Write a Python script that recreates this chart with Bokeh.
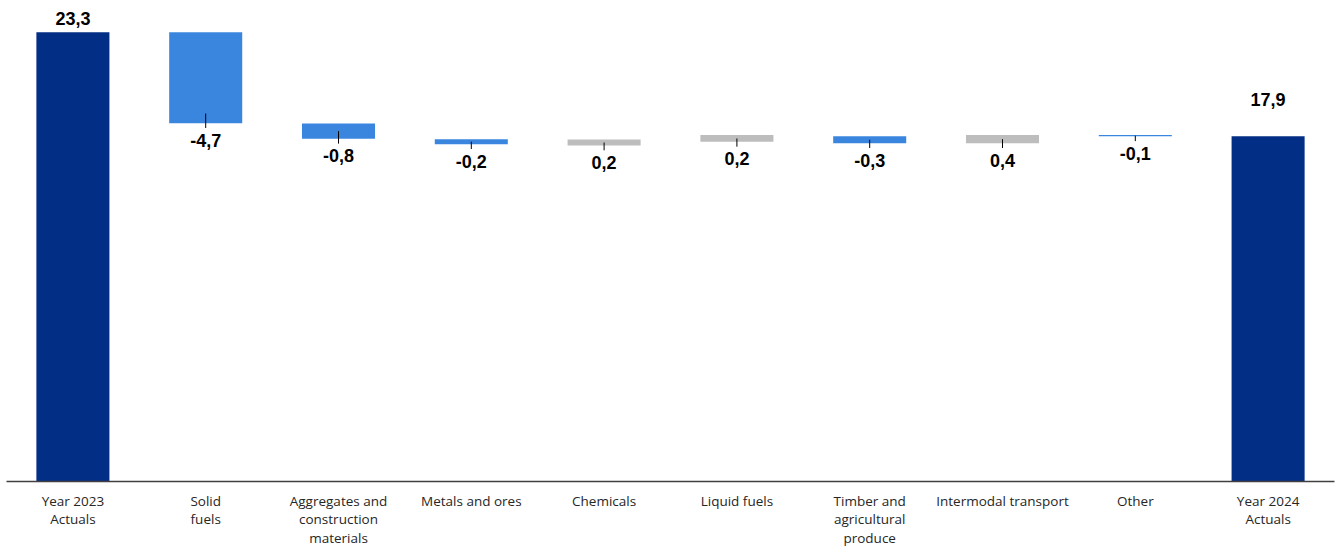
from bokeh.plotting import figure
from bokeh.models import ColumnDataSource, FactorRange, Range1d
from bokeh.core.properties import value
from bokeh.embed import file_html
from bokeh.resources import INLINE

# ---- data ----
categories = [
    "Year 2023\nActuals", "Solid\nfuels", "Aggregates and\nconstruction\nmaterials",
    "Metals and ores", "Chemicals", "Liquid fuels", "Timber and\nagricultural\nproduce",
    "Intermodal transport", "Other", "Year 2024\nActuals",
]
values = [23.3, -4.7, -0.8, -0.2, 0.2, 0.2, -0.3, 0.4, -0.1, 17.9]
kinds = ["total", "down", "down", "down", "up", "up", "down", "up", "down", "total"]
bar_low = [0.0, 18.58, 17.77, 17.49, 17.42, 17.61, 17.54, 17.54, 17.90, 0.0]
bar_high = [23.3, 23.3, 18.56, 17.75, 17.73, 17.96, 17.90, 17.96, 17.96, 17.9]

palette = {"total": "#032E86", "down": "#3A86DF", "up": "#BDBDBD"}

labels = [f"{v:.1f}".replace(".", ",") for v in values]
colors = [palette[k] for k in kinds]

src = ColumnDataSource(dict(x=categories, low=bar_low, high=bar_high, color=colors))

p = figure(
    x_range=FactorRange(*categories), y_range=Range1d(0, 24.94),
    width=1336, height=549, output_backend="svg", toolbar_location=None,
    min_border_left=6, min_border_right=2, min_border_top=0, min_border_bottom=66,
)
p.outline_line_color = None
p.xgrid.visible = False
p.ygrid.visible = False
p.yaxis.visible = False
p.background_fill_color = "white"

p.vbar(x="x", bottom="low", top="high", width=0.55, fill_color="color", line_color=None, source=src)

# totals: labels above
tot_idx = [i for i, k in enumerate(kinds) if k == "total"]
tot_off = [-14, -37]
for j, i in enumerate(tot_idx):
    p.text(x=[categories[i]], y=[bar_high[i]], text=[labels[i]], text_align="center",
           text_baseline="alphabetic", y_offset=tot_off[j], text_font=value("Liberation Sans"),
           text_font_style="bold", text_font_size="18px", text_color="#000000")

# deltas: leader tick + label below
d_idx = [i for i, k in enumerate(kinds) if k != "total"]
dx = [categories[i] for i in d_idx]
dy0 = [min(bar_low[i] + 0.5, (bar_low[i] + bar_high[i]) / 2) for i in d_idx]
dy1 = [bar_low[i] - 0.25 for i in d_idx]
p.segment(x0=dx, y0=dy0, x1=dx, y1=dy1, line_color="#000000", line_width=1)
p.text(x=dx, y=[bar_low[i] for i in d_idx], text=[labels[i] for i in d_idx],
       text_align="center", text_baseline="alphabetic", y_offset=17,
       text_font=value("Liberation Sans"), text_font_style="bold",
       text_font_size="18px", text_color="#000000")

ax = p.xaxis[0]
ax.major_tick_line_color = None
ax.minor_tick_line_color = None
ax.axis_line_color = "#404040"
ax.axis_line_width = 1.5
ax.major_label_text_font = "Open Sans"
ax.major_label_text_font_size = "13.5px"
ax.major_label_text_color = "#262626"
ax.major_label_text_line_height = 1.03
ax.major_label_standoff = 4

open("out.html", "w").write(file_html(p, INLINE))
